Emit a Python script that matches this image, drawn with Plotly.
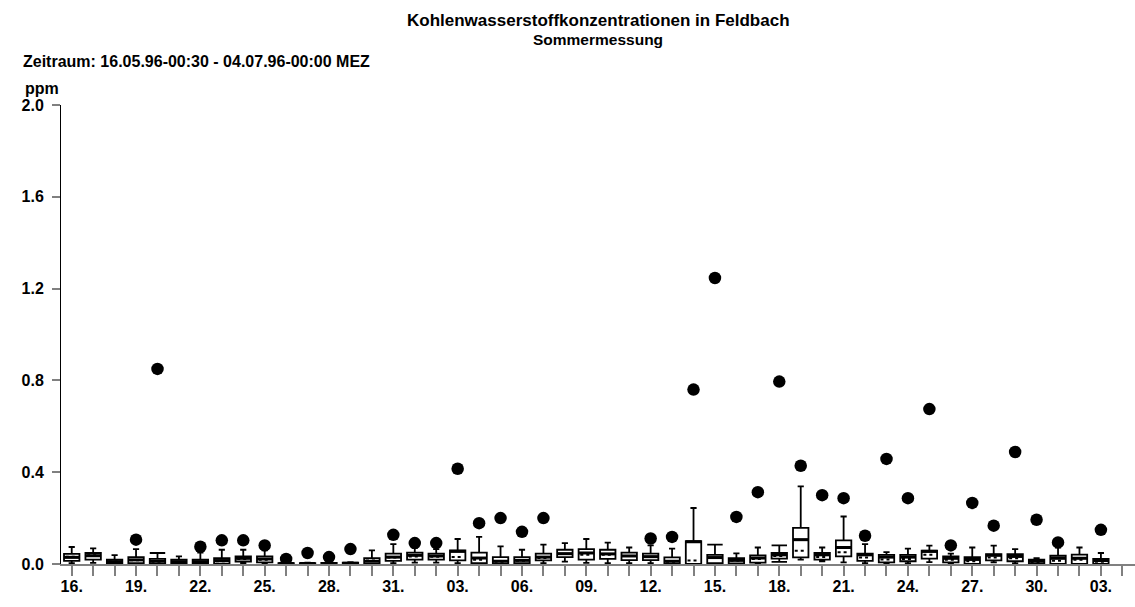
import plotly.graph_objects as go

# ---- data -------------------------------------------------------------
day_labels = ["16.", "17.", "18.", "19.", "20.", "21.", "22.", "23.", "24.", "25.",
              "26.", "27.", "28.", "29.", "30.", "31.", "01.", "02.", "03.", "04.",
              "05.", "06.", "07.", "08.", "09.", "10.", "11.", "12.", "13.", "14.",
              "15.", "16.", "17.", "18.", "19.", "20.", "21.", "22.", "23.", "24.",
              "25.", "26.", "27.", "28.", "29.", "30.", "01.", "02.", "03.", "04."]

q1 = [0.014, 0.019, 0.002, 0.004, 0.000, 0.002, 0.001, 0.002, 0.011, 0.007,
      0.000, 0.000, 0.000, 0.000, 0.000, 0.014, 0.019, 0.019, 0.016, 0.004,
      0.000, 0.004, 0.016, 0.030, 0.019, 0.022, 0.017, 0.017, 0.000, 0.000,
      0.004, 0.003, 0.006, 0.023, 0.029, 0.019, 0.033, 0.014, 0.007, 0.012,
      0.023, 0.007, 0.000, 0.016, 0.012, 0.000, 0.000, 0.000, 0.000]
median = [0.029, 0.036, 0.010, 0.018, 0.012, 0.010, 0.010, 0.015, 0.025, 0.022,
          0.002, 0.002, 0.002, 0.003, 0.012, 0.030, 0.038, 0.035, 0.055, 0.026,
          0.012, 0.016, 0.030, 0.045, 0.048, 0.044, 0.035, 0.032, 0.012, 0.097,
          0.028, 0.016, 0.026, 0.040, 0.106, 0.040, 0.072, 0.040, 0.030, 0.030,
          0.055, 0.025, 0.020, 0.038, 0.033, 0.012, 0.025, 0.025, 0.015]
q3 = [0.044, 0.048, 0.019, 0.030, 0.022, 0.019, 0.019, 0.026, 0.033, 0.033,
      0.004, 0.004, 0.005, 0.006, 0.026, 0.045, 0.050, 0.045, 0.059, 0.050,
      0.030, 0.030, 0.045, 0.062, 0.065, 0.062, 0.050, 0.045, 0.029, 0.100,
      0.040, 0.026, 0.038, 0.048, 0.157, 0.048, 0.103, 0.045, 0.040, 0.040,
      0.058, 0.033, 0.030, 0.043, 0.043, 0.019, 0.036, 0.041, 0.022]
mean = [0.032, 0.038, 0.011, 0.016, 0.010, 0.009, 0.008, 0.012, 0.022, 0.018,
        0.002, 0.002, 0.003, 0.003, 0.015, 0.028, 0.033, 0.032, 0.030, 0.018,
        0.010, 0.014, 0.026, 0.044, 0.040, 0.040, 0.035, 0.030, 0.010, 0.015,
        0.026, 0.014, 0.022, 0.035, 0.058, 0.030, 0.051, 0.028, 0.020, 0.022,
        0.040, 0.018, 0.012, 0.028, 0.025, 0.008, 0.014, 0.018, 0.010]
whisk_lo = [0.004, 0.005, 0.000, 0.000, 0.000, 0.000, 0.000, 0.000, 0.003, 0.002,
            0.000, 0.000, 0.000, 0.000, 0.000, 0.004, 0.006, 0.006, 0.004, 0.000,
            0.000, 0.000, 0.004, 0.010, 0.005, 0.004, 0.004, 0.004, 0.000, 0.000,
            0.000, 0.000, 0.000, 0.009, 0.019, 0.012, 0.007, 0.004, 0.000, 0.003,
            0.008, 0.000, 0.000, 0.007, 0.003, 0.000, 0.000, 0.000, 0.000]
whisk_hi = [0.074, 0.068, 0.039, 0.065, 0.048, 0.033, 0.050, 0.062, 0.062, 0.059,
            0.006, 0.006, 0.008, 0.008, 0.059, 0.087, 0.070, 0.065, 0.109, 0.118,
            0.077, 0.062, 0.084, 0.091, 0.109, 0.093, 0.072, 0.081, 0.067, 0.244,
            0.084, 0.046, 0.072, 0.081, 0.338, 0.072, 0.207, 0.087, 0.052, 0.067,
            0.080, 0.045, 0.072, 0.080, 0.065, 0.026, 0.072, 0.072, 0.048]
maximum = [None, None, None, 0.106, 0.850, None, 0.075, 0.103, 0.103, 0.081,
           0.022, 0.048, 0.030, 0.065, None, 0.127, 0.091, 0.091, 0.415, 0.178,
           0.200, 0.140, 0.200, None, None, None, None, 0.111, 0.118, 0.760,
           1.246, 0.205, 0.313, 0.795, 0.428, 0.300, 0.287, 0.123, 0.458, 0.287,
           0.675, 0.081, 0.266, 0.167, 0.488, 0.193, 0.094, None, 0.149]
wide_cap_days = [4, 30, 33]

y_ticks = [0.0, 0.4, 0.8, 1.2, 1.6, 2.0]
y_tick_text = ["0.0", "0.4", "0.8", "1.2", "1.6", "2.0"]

# ---- figure -----------------------------------------------------------
FONT = "Liberation Sans, Arial, sans-serif"
n = len(q1)
days = list(range(n))
BW = 0.72

fig = go.Figure()


def add_boxes(idx, ww):
    fig.add_trace(go.Box(
        x=[days[i] for i in idx],
        q1=[q1[i] for i in idx], median=[median[i] for i in idx],
        q3=[q3[i] for i in idx],
        lowerfence=[whisk_lo[i] for i in idx],
        upperfence=[whisk_hi[i] for i in idx],
        width=BW, whiskerwidth=ww, boxpoints=False,
        fillcolor="white", line=dict(color="black", width=1.8),
        showlegend=False, hoverinfo="skip"))


normal = [i for i in days if i not in wide_cap_days]
add_boxes(normal, 0.4)
add_boxes(wide_cap_days, 1.0)

# medians (thick) and means (dotted)
mx, my, ax, ay = [], [], [], []
for i in days:
    mx += [days[i] - BW / 2, days[i] + BW / 2, None]
    my += [median[i], median[i], None]
    ax += [days[i] - BW / 2 + 0.08, days[i] + BW / 2 - 0.08, None]
    ay += [mean[i], mean[i], None]
fig.add_trace(go.Scatter(x=mx, y=my, mode="lines",
                         line=dict(color="black", width=3),
                         showlegend=False, hoverinfo="skip"))
fig.add_trace(go.Scatter(x=ax, y=ay, mode="lines",
                         line=dict(color="black", width=2, dash="dot"),
                         showlegend=False, hoverinfo="skip"))

# maxima
fig.add_trace(go.Scatter(x=days, y=maximum, mode="markers",
                         marker=dict(color="black", size=12.5, symbol="circle"),
                         showlegend=False, hoverinfo="skip", cliponaxis=False))

tickvals = list(range(len(day_labels)))
ticktext = [day_labels[i] if (i % 3 == 0 and i < n) else "" for i in tickvals]

fig.update_layout(
    width=1135, height=607,
    margin=dict(l=61, r=0, t=105, b=43),
    paper_bgcolor="white", plot_bgcolor="white",
    font=dict(family=FONT, size=16, color="black"),
    xaxis=dict(range=[-0.5, 49.59], tickmode="array", tickvals=tickvals,
               ticktext=[f"<b>{t}</b>" if t else "" for t in ticktext],
               ticks="outside", ticklen=10, tickcolor="#808080", tickwidth=1.5,
               showline=True, linecolor="#808080", linewidth=2,
               showgrid=False, zeroline=False, ticklabelstandoff=-3,
               tickfont=dict(family=FONT, size=16, color="black")),
    yaxis=dict(range=[0, 2.0], tickmode="array", tickvals=y_ticks,
               ticktext=[f"<b>{t}</b>" for t in y_tick_text],
               ticks="outside", ticklen=8, tickcolor="#808080", tickwidth=1.5,
               showline=True, linecolor="black", linewidth=1,
               showgrid=False, zeroline=False, ticklabelstandoff=5,
               tickfont=dict(family=FONT, size=16, color="black")),
    annotations=[
        dict(text="<b>Kohlenwasserstoffkonzentrationen in Feldbach</b>",
             xref="paper", yref="paper", x=0.5, y=(564 - 21) / 459,
             xanchor="center", yanchor="middle", showarrow=False,
             font=dict(family=FONT, size=17)),
        dict(text="<b>Sommermessung</b>",
             xref="paper", yref="paper", x=0.5, y=(564 - 39) / 459,
             xanchor="center", yanchor="middle", showarrow=False,
             font=dict(family=FONT, size=15.5)),
        dict(text="<b>Zeitraum: 16.05.96-00:30 - 04.07.96-00:00 MEZ</b>",
             xref="paper", yref="paper", x=(21 - 61) / 1074, y=(564 - 62) / 459,
             xanchor="left", yanchor="middle", showarrow=False,
             font=dict(family=FONT, size=16)),
        dict(text="<b>ppm</b>",
             xref="paper", yref="paper", x=(23 - 61) / 1074, y=(564 - 88) / 459,
             xanchor="left", yanchor="middle", showarrow=False,
             font=dict(family=FONT, size=16)),
    ],
)

fig.write_html("out.html", config={"displayModeBar": False},
               post_script="document.body.style.margin='0px';")
